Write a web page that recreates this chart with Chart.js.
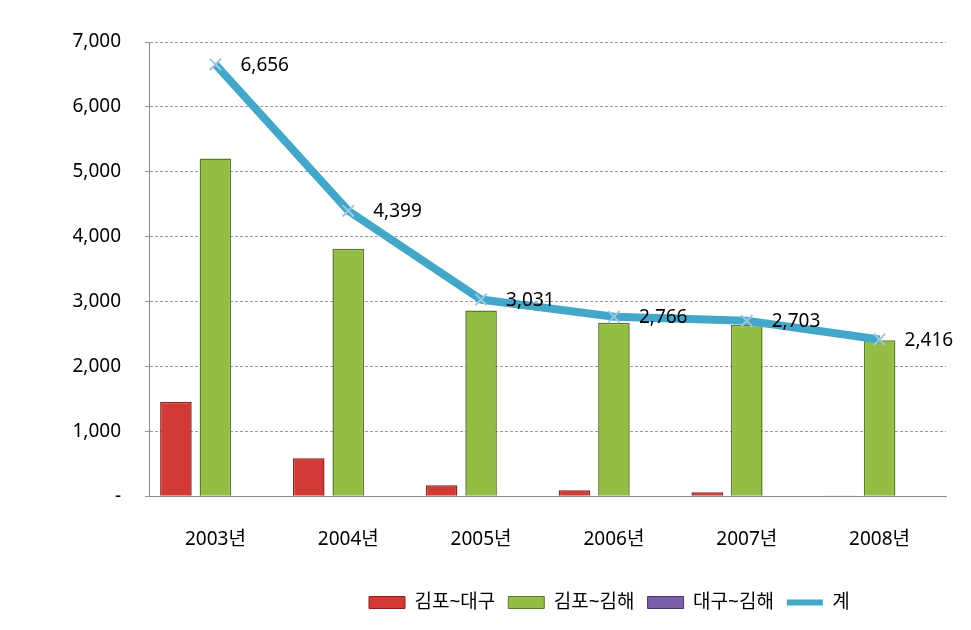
<!DOCTYPE html>
<html>
<head>
<meta charset="utf-8">
<script src="https://cdn.jsdelivr.net/npm/chart.js@4"></script>
<style>
  html, body { margin: 0; padding: 0; background: #fff; }
  #wrap { width: 971px; height: 630px; }
</style>
</head>
<body>
<div id="wrap"><canvas id="route-chart"></canvas></div>
<script>
// chart data
const years = ["2003년", "2004년", "2005년", "2006년", "2007년", "2008년"];
const gimpoDaegu = [1450, 586, 170, 92, 62, 12];
const gimpoGimhae = [5206, 3813, 2861, 2674, 2641, 2404];
const daeguGimhae = [0, 0, 0, 0, 0, 0];
const totals = [6656, 4399, 3031, 2766, 2703, 2416];

const FONT = "'Noto Sans', 'Noto Sans CJK KR', sans-serif";

// value labels next to the line points
const totalLabels = {
  id: "totalLabels",
  afterDatasetsDraw(chart) {
    const meta = chart.getDatasetMeta(3);
    const ctx = chart.ctx;
    ctx.save();
    ctx.font = "19px " + FONT;
    ctx.fillStyle = "#000";
    ctx.textAlign = "left";
    ctx.textBaseline = "middle";
    meta.data.forEach((pt, i) => {
      ctx.fillText(totals[i].toLocaleString("en-US"), pt.x + 25, pt.y + 1);
    });
    ctx.restore();
  },
};

// legend is not centred in the original, push it to the right
const legendShift = {
  id: "legendShift",
  afterLayout(chart) {
    const lg = chart.legend;
    const w = lg.right - lg.left;
    lg.left = 356;
    lg.right = lg.left + w;
  },
};

const ctx = document.getElementById("route-chart").getContext("2d");
new Chart(ctx, {
  type: "bar",
  data: {
    labels: years,
    datasets: [
      {
        label: "김포~대구",
        data: gimpoDaegu,
        backgroundColor: "#d23b35",
        borderColor: "#8e1f1b",
        borderWidth: 1.5,
        order: 1,
      },
      {
        label: "김포~김해",
        data: gimpoGimhae,
        backgroundColor: "#93bd45",
        borderColor: "#5a7a26",
        borderWidth: 1.5,
        order: 1,
      },
      {
        label: "대구~김해",
        data: daeguGimhae,
        backgroundColor: "#7b5fa8",
        borderColor: "#4a3670",
        borderWidth: 1.5,
        order: 1,
      },
      {
        type: "line",
        label: "계",
        data: totals,
        borderColor: "#43a7c9",
        backgroundColor: "#43a7c9",
        borderWidth: 8,
        pointStyle: "crossRot",
        pointRadius: 8,
        pointBorderColor: "#9fc6df",
        pointBorderWidth: 2,
        tension: 0,
        order: 0,
      },
    ],
  },
  options: {
    responsive: true,
    maintainAspectRatio: false,
    animation: false,
    layout: {
      padding: { top: 42, right: 25, bottom: 8, left: 0 },
    },
    datasets: {
      bar: { categoryPercentage: 0.892, barPercentage: 0.8 },
    },
    scales: {
      x: {
        grid: { display: false },
        border: { display: true, color: "#8a8a8a", width: 1 },
        afterFit: (scale) => { scale.height += 5; },
        ticks: { color: "#000", font: { family: FONT, size: 19 }, padding: 24 },
      },
      y: {
        min: 0,
        max: 7000,
        afterFit: (scale) => { scale.width = 149; },
        grid: { color: "#9a9a9a", tickLength: 4, drawTicks: true },
        border: { display: true, color: "#8a8a8a", dash: [3, 2] },
        ticks: {
          stepSize: 1000,
          color: "#000",
          padding: 24,
          font: { family: FONT, size: 19 },
          callback: (v) => (v === 0 ? "-" : v.toLocaleString("en-US")),
        },
      },
    },
    plugins: {
      legend: {
        position: "bottom",
        align: "start",
        labels: {
          color: "#000",
          font: { family: FONT, size: 19 },
          boxWidth: 36,
          boxHeight: 12,
          padding: 13,
          usePointStyle: true,
          pointStyleWidth: 36,
          sort: (a, b) => a.datasetIndex - b.datasetIndex,
          generateLabels(chart) {
            const items = Chart.defaults.plugins.legend.labels.generateLabels(chart);
            items.forEach((it) => {
              const ds = chart.data.datasets[it.datasetIndex];
              if (ds.type === "line") {
                it.pointStyle = "line";
                it.strokeStyle = "#43a7c9";
                it.lineWidth = 6;
              } else {
                it.pointStyle = "rect";
                it.fillStyle = ds.backgroundColor;
                it.strokeStyle = ds.borderColor;
                it.lineWidth = 1;
              }
            });
            return items;
          },
        },
      },
      tooltip: { enabled: false },
    },
  },
  plugins: [totalLabels, legendShift],
});
</script>
</body>
</html>
